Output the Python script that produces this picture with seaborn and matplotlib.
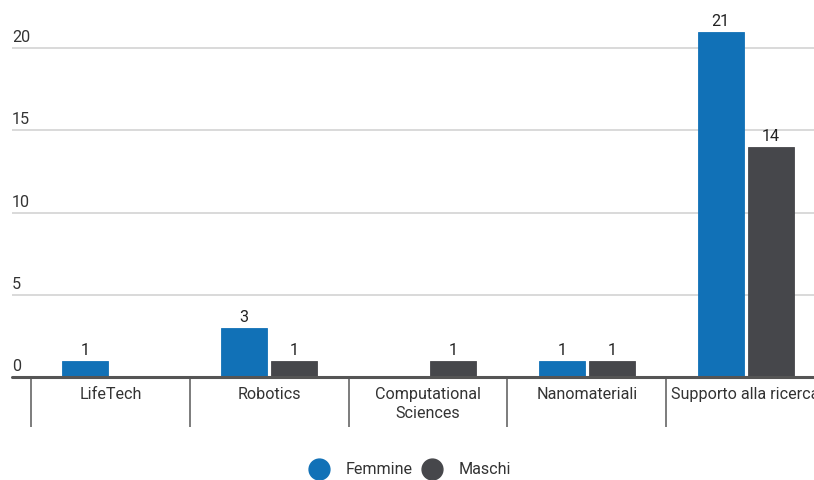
import matplotlib
matplotlib.use("Agg")
import matplotlib.pyplot as plt
from matplotlib.lines import Line2D
import seaborn as sns
import pandas as pd

categories = ["LifeTech", "Robotics", "Computational Sciences", "Nanomateriali", "Supporto alla ricerca"]
tick_labels = ["LifeTech", "Robotics", "Computational\nSciences", "Nanomateriali", "Supporto alla ricerca"]
femmine = [1, 3, 0, 1, 21]
maschi = [0, 1, 1, 1, 14]
series = ["Femmine", "Maschi"]
y_ticks = [0, 5, 10, 15, 20]
colors = {"Femmine": "#1171b7", "Maschi": "#46474b"}

df = pd.DataFrame({
    "categoria": categories * 2,
    "valore": femmine + maschi,
    "genere": [series[0]] * len(categories) + [series[1]] * len(categories),
})

sns.set_theme(style="white")
plt.rcParams["font.family"] = ["Roboto", "DejaVu Sans"]

W, H, DPI = 814, 480, 100
FS = 11.6
fig = plt.figure(figsize=(W / DPI, H / DPI), dpi=DPI)
left_px, right_px, top_px, base_px = 12, 825, 0, 377
ax = fig.add_axes([left_px / W, (H - base_px) / H, (right_px - left_px) / W, (base_px - top_px) / H])

sns.barplot(data=df, x="categoria", y="valore", hue="genere", order=categories,
            hue_order=series, palette=colors, width=0.63, gap=0.08,
            linewidth=0.6, saturation=1, legend=False, ax=ax)
for patch, c in zip(ax.patches, [colors["Femmine"]] * 5 + [colors["Maschi"]] * 5):
    patch.set_edgecolor(c)

cat_px = (825 - 31) / 5.0
ax.set_xlim(-0.5 - (31 - left_px) / cat_px, 4.5)
unit_px = (377 - 48) / 20.0
ax.set_ylim(0, (base_px - top_px) / unit_px)

for s in ax.spines.values():
    s.set_visible(False)

ax.set_yticks(y_ticks)
ax.set_yticklabels([])
ax.tick_params(axis="y", length=0)
for t in y_ticks:
    if t > 0:
        ax.axhline(t, color="#cfcfcf", lw=1.1, zorder=0)
    ax.annotate(str(t), xy=(0.0, t), xycoords=ax.get_yaxis_transform(),
                xytext=(0, 2), textcoords="offset points", ha="left", va="bottom",
                fontsize=FS, color="#333333")
ax.axhline(0, color="#555555", lw=2.2, zorder=5, clip_on=False)

ax.set_xticks(range(len(categories)))
ax.set_xticklabels(tick_labels, fontsize=FS, color="#333333", linespacing=1.35)
ax.set_xticks([i - 0.5 for i in range(len(categories) + 1)], minor=True)
ax.tick_params(axis="x", which="both", bottom=True)
ax.tick_params(axis="x", which="major", length=0, pad=7)
ax.tick_params(axis="x", which="minor", length=36, width=1.2, color="#666666", direction="out")
ax.set_xlabel("")
ax.set_ylabel("")
ax.grid(False)

for cont in ax.containers:
    labels = [str(int(v)) if v > 0 else "" for v in cont.datavalues]
    ax.bar_label(cont, labels=labels, padding=2, fontsize=FS, color="#222222")

handles = [Line2D([], [], marker="o", linestyle="", markersize=15, markerfacecolor=colors[s],
                  markeredgecolor=colors[s]) for s in series]
fig.legend(handles, series, loc="center", bbox_to_anchor=(0.5, 1 - 470 / H), ncol=2,
           frameon=False, fontsize=FS, handletextpad=0.6, columnspacing=0.25,
           labelcolor="#333333")

fig.savefig("out.png", dpi=DPI)
